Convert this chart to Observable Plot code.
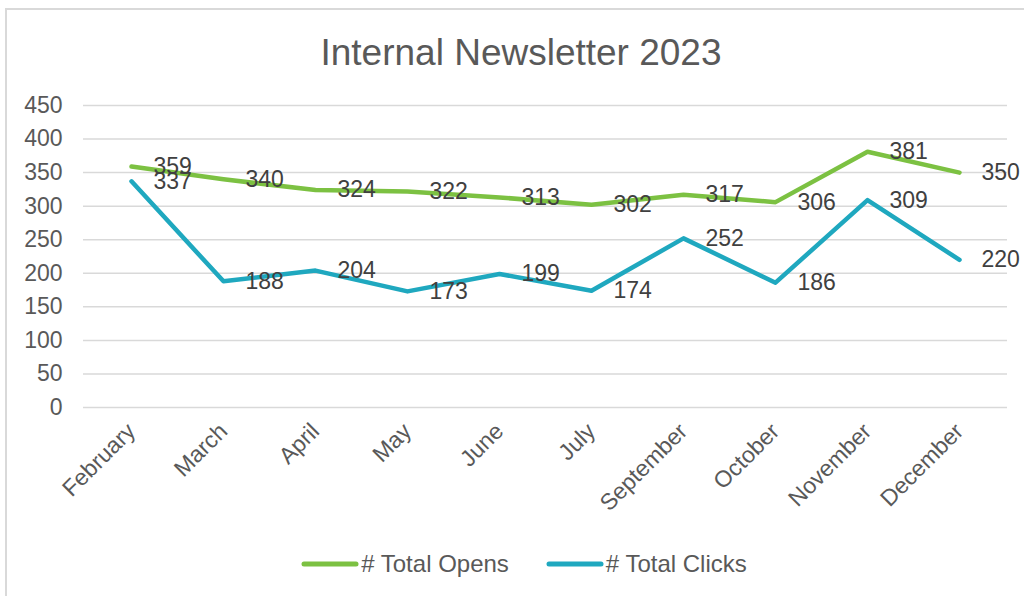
<!DOCTYPE html>
<html>
<head>
<meta charset="utf-8">
<script src="https://cdn.jsdelivr.net/npm/d3@7"></script>
<script src="https://cdn.jsdelivr.net/npm/@observablehq/plot@0.6"></script>
<style>
  html, body { margin: 0; padding: 0; background: #fff; width: 1024px; height: 596px; overflow: hidden; font-family: "Liberation Sans", Arial, sans-serif; }
  #frame { position: absolute; left: 5px; top: 8px; width: 1040px; height: 620px; border: 2px solid #d9d9d9; box-sizing: border-box; }
  #title { position: absolute; left: 0; width: 1042px; top: 34px; text-align: center; font-size: 37px; color: #595959; line-height: 1; }
  #chart { position: absolute; left: 0; top: 0; }
  #legend { position: absolute; left: 12px; top: 550px; width: 1024px; display: flex; justify-content: center; gap: 37px; font-size: 24px; color: #595959; }
  .item { display: flex; align-items: center; }
  .item svg { margin-right: 2px; }
</style>
</head>
<body>
<div id="frame"></div>
<div id="title">Internal Newsletter 2023</div>
<div id="chart"></div>
<div id="legend"></div>
<script>
const months = ["February", "March", "April", "May", "June", "July", "September", "October", "November", "December"];
const opens = [359, 340, 324, 322, 313, 302, 317, 306, 381, 350];
const clicks = [337, 188, 204, 173, 199, 174, 252, 186, 309, 220];
const seriesNames = ["# Total Opens", "# Total Clicks"];
const seriesColors = ["#7cc142", "#1fa8bf"];
const yTicks = [0, 50, 100, 150, 200, 250, 300, 350, 400, 450];

const rows = [];
months.forEach((m, i) => {
  rows.push({month: m, value: opens[i], series: seriesNames[0]});
  rows.push({month: m, value: clicks[i], series: seriesNames[1]});
});

const plot = Plot.plot({
  width: 1024,
  height: 530,
  marginTop: 105,
  marginBottom: 123,
  marginLeft: 83,
  marginRight: 17,
  style: {fontFamily: '"Liberation Sans", Arial, sans-serif', background: "transparent"},
  x: {type: "point", domain: months, padding: 0.5, label: null},
  y: {domain: [0, 450], label: null},
  color: {domain: seriesNames, range: seriesColors},
  marks: [
    Plot.gridY(yTicks, {stroke: "#d9d9d9", strokeOpacity: 1, strokeWidth: 1.5}),
    Plot.axisY(yTicks, {tickSize: 0, tickPadding: 21, fontSize: 23, fill: "#595959", label: null}),
    Plot.axisX({tickSize: 0, tickPadding: 20, tickRotate: -45, fontSize: 23, fill: "#595959", label: null}),
    Plot.line(rows, {x: "month", y: "value", z: "series", stroke: "series", strokeWidth: 4.5, strokeLinejoin: "round", strokeLinecap: "round"}),
    Plot.text(rows, {x: "month", y: "value", text: d => String(d.value), textAnchor: "start", dx: 22, fontSize: 23, fill: "#404040"})
  ]
});
document.getElementById("chart").appendChild(plot);

const legend = document.getElementById("legend");
seriesNames.forEach((name, i) => {
  const item = document.createElement("div");
  item.className = "item";
  item.innerHTML = `<svg width="58" height="10"><line x1="3" y1="5" x2="55" y2="5" stroke="${seriesColors[i]}" stroke-width="5" stroke-linecap="round"/></svg><span>${name}</span>`;
  legend.appendChild(item);
});
</script>
</body>
</html>
